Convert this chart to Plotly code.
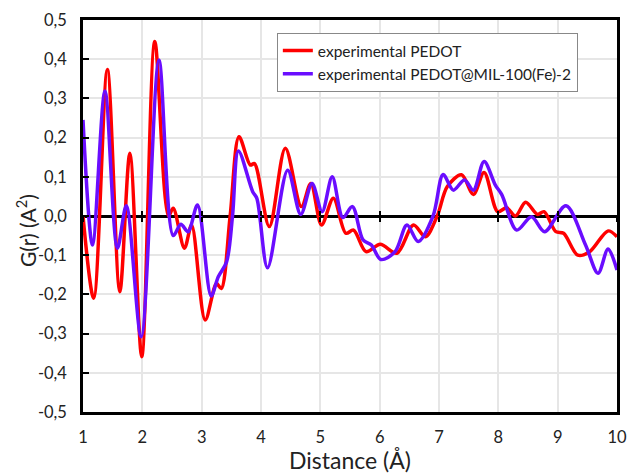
import plotly.graph_objects as go

# Experimental PEDOT
x_red = [1.0, 1.18, 1.41, 1.62, 1.79, 1.99, 2.21, 2.44, 2.52, 2.71, 2.83, 3.06, 3.25, 3.33, 3.48,
         3.63, 3.82, 3.89, 4.14, 4.41, 4.68, 4.84, 5.02, 5.22, 5.43, 5.56, 5.77, 6.01, 6.29, 6.57,
         6.77, 6.97, 7.14, 7.38, 7.58, 7.76, 7.99, 8.14, 8.29, 8.46, 8.66, 8.77, 8.97, 9.10, 9.34,
         9.54, 9.85, 10.0]
y_red = [0.0, -0.21, 0.374, -0.193, 0.16, -0.359, 0.445, 0.0, 0.02, -0.082, -0.023, -0.265, -0.172, -0.185, 0.0,
         0.202, 0.13, 0.134, -0.027, 0.173, 0.024, 0.083, -0.023, 0.045, -0.044, -0.036, -0.091, -0.072, -0.095, -0.023,
         -0.053, 0.0, 0.075, 0.105, 0.055, 0.111, 0.011, 0.021, 0.0, 0.035, 0.004, 0.011, -0.04, -0.044, -0.1,
         -0.091, -0.038, -0.053]

# Experimental PEDOT@MIL-100(Fe)-2
x_pur = [1.0, 1.16, 1.37, 1.58, 1.73, 1.98, 2.28, 2.52, 2.65, 2.77, 2.93, 3.16, 3.28, 3.42, 3.52,
         3.62, 3.86, 3.93, 4.11, 4.45, 4.67, 4.86, 5.03, 5.20, 5.38, 5.54, 5.72, 5.86, 6.02, 6.26,
         6.46, 6.65, 6.90, 7.07, 7.24, 7.43, 7.58, 7.76, 7.95, 8.06, 8.31, 8.56, 8.78, 9.14, 9.47,
         9.68, 9.85, 10.0]
y_pur = [0.245, -0.074, 0.319, -0.082, 0.026, -0.308, 0.398, -0.05, -0.021, -0.04, 0.028, -0.204, -0.155, -0.117, 0.0,
         0.166, 0.062, 0.045, -0.132, 0.117, 0.004, 0.083, 0.011, 0.1, -0.004, 0.024, -0.061, -0.074, -0.111, -0.091,
         -0.023, -0.065, 0.0, 0.106, 0.066, 0.092, 0.066, 0.139, 0.079, 0.054, -0.036, -0.002, -0.04, 0.026, -0.074,
         -0.146, -0.084, -0.138]

x_ticks = [1, 2, 3, 4, 5, 6, 7, 8, 9, 10]
y_ticks = [-0.5, -0.4, -0.3, -0.2, -0.1, 0.0, 0.1, 0.2, 0.3, 0.4, 0.5]
y_ticktext = ["-0,5", "-0,4", "-0,3", "-0,2", "-0,1", "0,0", "0,1", "0,2", "0,3", "0,4", "0,5"]

FONT = "Lato, 'Open Sans', sans-serif"

fig = go.Figure()
fig.add_trace(go.Scatter(x=x_red, y=y_red, mode="lines", name="experimental PEDOT",
                         line=dict(color="#FF0000", width=3.5, shape="spline", smoothing=0.9)))
fig.add_trace(go.Scatter(x=x_pur, y=y_pur, mode="lines", name="experimental PEDOT@MIL-100(Fe)-2",
                         line=dict(color="#6A0DFF", width=3.5, shape="spline", smoothing=0.9)))

fig.update_layout(
    width=628, height=474,
    margin=dict(l=83, r=11, t=20, b=62, autoexpand=False),
    paper_bgcolor="white", plot_bgcolor="white",
    font=dict(family=FONT, size=16, color="#222"),
    showlegend=True,
    legend=dict(x=0.363, y=0.967, xanchor="left", yanchor="top",
                bgcolor="white", bordercolor="#888", borderwidth=1,
                font=dict(size=15.5, family=FONT, color="#222"),
                tracegroupgap=4, itemwidth=30),
    xaxis=dict(range=[1, 10], tickvals=x_ticks, ticks="", showgrid=True, automargin=False,
               gridcolor="#E6E6E6", gridwidth=1.5, showline=True, linecolor="black",
               linewidth=2.5, mirror=True, zeroline=False, ticklabelstandoff=8,
               tickfont=dict(size=16.5),
               title=dict(text="Distance (Å)", font=dict(size=23), standoff=6)),
    yaxis=dict(range=[-0.5, 0.5], tickvals=y_ticks, ticktext=y_ticktext, automargin=False,
               ticks="inside", ticklen=6, tickwidth=2, tickcolor="black",
               showgrid=True, gridcolor="#E6E6E6", gridwidth=1.5,
               showline=True, linecolor="black", linewidth=2.5, mirror=True,
               zeroline=True, zerolinecolor="black", zerolinewidth=3, ticklabelstandoff=10,
               tickfont=dict(size=16.5)),
    xaxis2=dict(overlaying="x", anchor="free", position=0.5, range=[1, 10],
                tickvals=x_ticks, ticks="outside", ticklen=5, tickwidth=2, tickcolor="black",
                showticklabels=False, showgrid=False, zeroline=False, showline=False),
    xaxis3=dict(overlaying="x", anchor="free", position=0.5, range=[1, 10],
                tickvals=x_ticks, ticks="inside", ticklen=5, tickwidth=2, tickcolor="black",
                showticklabels=False, showgrid=False, zeroline=False, showline=False),
    annotations=[dict(text="G(r) (A<sup>2</sup>)", textangle=-90, xref="paper", yref="paper",
                      x=-0.107, y=0.464, xanchor="center", yanchor="middle", showarrow=False,
                      font=dict(size=21, family=FONT, color="#222"))],
)
# invisible traces to activate the overlay axes for the zero-line tick marks
fig.add_trace(go.Scatter(x=[x_ticks[0]], y=[0], xaxis="x2", mode="markers",
                         marker=dict(opacity=0), showlegend=False, hoverinfo="skip"))
fig.add_trace(go.Scatter(x=[x_ticks[0]], y=[0], xaxis="x3", mode="markers",
                         marker=dict(opacity=0), showlegend=False, hoverinfo="skip"))

fig.write_html("out.html", config={"displayModeBar": False},
               post_script="document.body.style.margin='0';document.body.style.overflow='hidden';")
